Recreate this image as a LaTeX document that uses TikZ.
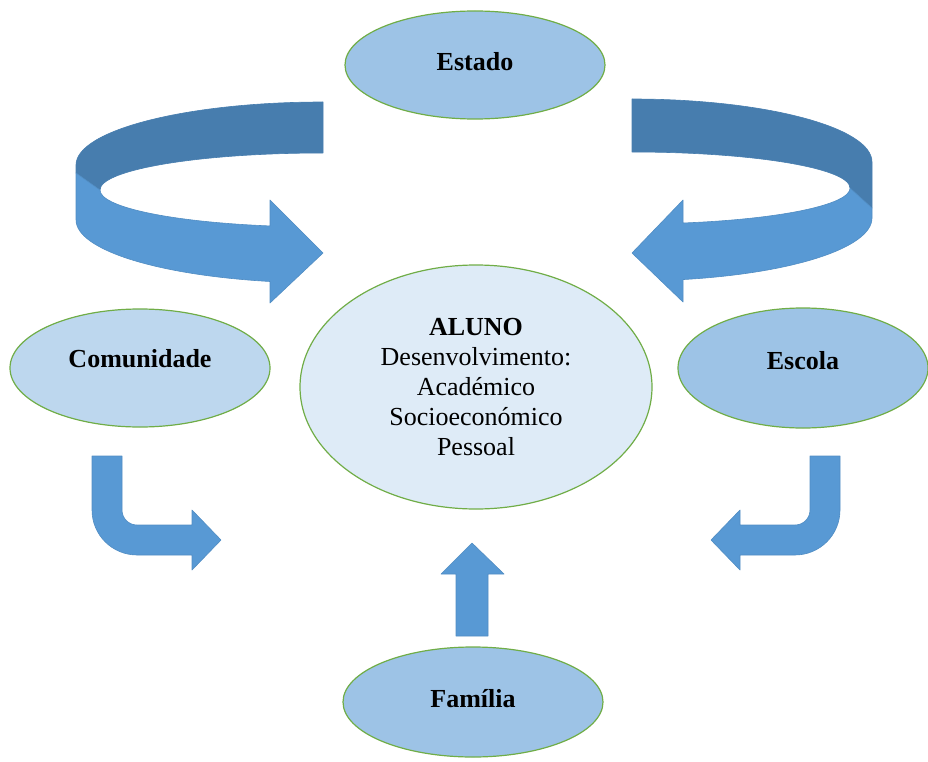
\documentclass[tikz,border=0pt]{standalone}
\usepackage{fontspec}
\setmainfont{Liberation Serif}
\usetikzlibrary{shapes.geometric}
\definecolor{fillmid}{HTML}{9DC3E6}
\definecolor{filllight}{HTML}{BDD7EE}
\definecolor{fillpale}{HTML}{DEEBF7}
\definecolor{rimgreen}{HTML}{70AD47}
\definecolor{arrowblue}{HTML}{5899D4}
\definecolor{arrowdark}{HTML}{477DAE}
\tikzset{
    actor/.style={ellipse, draw=rimgreen, line width=1.2pt, inner sep=0pt,
        font=\fontsize{26}{30}\selectfont\bfseries},
    blockarrow/.style={fill=arrowblue, draw=arrowblue!92!black, line width=0.6pt, line join=round},
    backband/.style={fill=arrowdark, draw=arrowdark, line width=0.6pt, line join=round}
}
\begin{document}
\begin{tikzpicture}[x=1pt,y=-1pt]
                \useasboundingbox (0,0) rectangle (928,762);

                %Draw the back of the left curved arrow
                \draw[backband] (323,102) arc[start angle=270, end angle=180, x radius=247, y radius=63]
                -- (76,173) -- (100,190) arc[start angle=180, end angle=270, x radius=223, y radius=37] -- cycle;
                %Draw the front of the left curved arrow
                \draw[blockarrow] (76,173) -- (100,190)
                arc[start angle=180, end angle=103.75, x radius=223, y radius=37]
                -- (270,200) -- (323,253) -- (270,303) -- (270,281.5)
                arc[start angle=102.4, end angle=180, x radius=247, y radius=63] -- cycle;

                %Draw the back of the right curved arrow
                \draw[backband] (632,99) arc[start angle=270, end angle=360, x radius=240, y radius=63]
                -- (872,208) -- (850,188) arc[start angle=0, end angle=-90, x radius=218, y radius=36] -- cycle;
                %Draw the front of the right curved arrow
                \draw[blockarrow] (850,188) -- (872,208) -- (872,218)
                arc[start angle=0, end angle=77.7, x radius=240, y radius=63]
                -- (683,302) -- (632,253) -- (683,200) -- (683,223)
                arc[start angle=76.5, end angle=0, x radius=218, y radius=36] -- cycle;

                %Draw the bent arrows
                \draw[blockarrow] (92,456) -- (122,456) -- (122,510)
                arc[start angle=180, end angle=90, radius=15] -- (192,525) -- (192,510)
                -- (221,540) -- (192,570) -- (192,555) -- (137,555)
                arc[start angle=90, end angle=180, radius=45] -- cycle;
                \draw[blockarrow] (840,456) -- (810,456) -- (810,510)
                arc[start angle=0, end angle=90, radius=15] -- (740,525) -- (740,510)
                -- (711,540) -- (740,570) -- (740,555) -- (795,555)
                arc[start angle=90, end angle=0, radius=45] -- cycle;

                %Draw the up arrow
                \draw[blockarrow] (456,636) -- (456,574) -- (441,574) -- (472,543)
                -- (504,574) -- (488,574) -- (488,636) -- cycle;

                %Draw the actors
                \node[actor, fill=fillmid, minimum width=260pt, minimum height=108pt, text depth=8pt]
                (estado) at (475,65) {Estado};
                \node[actor, fill=filllight, minimum width=260pt, minimum height=118pt, text depth=20pt]
                (comunidade) at (140,368) {Comunidade};
                \node[actor, fill=fillmid, minimum width=250pt, minimum height=120pt, text depth=16pt]
                (escola) at (803,368) {Escola};
                \node[actor, fill=fillmid, minimum width=260pt, minimum height=110pt, text depth=8pt]
                (familia) at (473,702) {Família};

                %Draw the student
                \node[actor, fill=fillpale, minimum width=352pt, minimum height=244pt, align=center,
                font=\fontsize{26}{30}\selectfont]
                (aluno) at (476,387) {\textbf{ALUNO}\\Desenvolvimento:\\Académico\\Socioeconómico\\Pessoal};

            \end{tikzpicture}
\end{document}
